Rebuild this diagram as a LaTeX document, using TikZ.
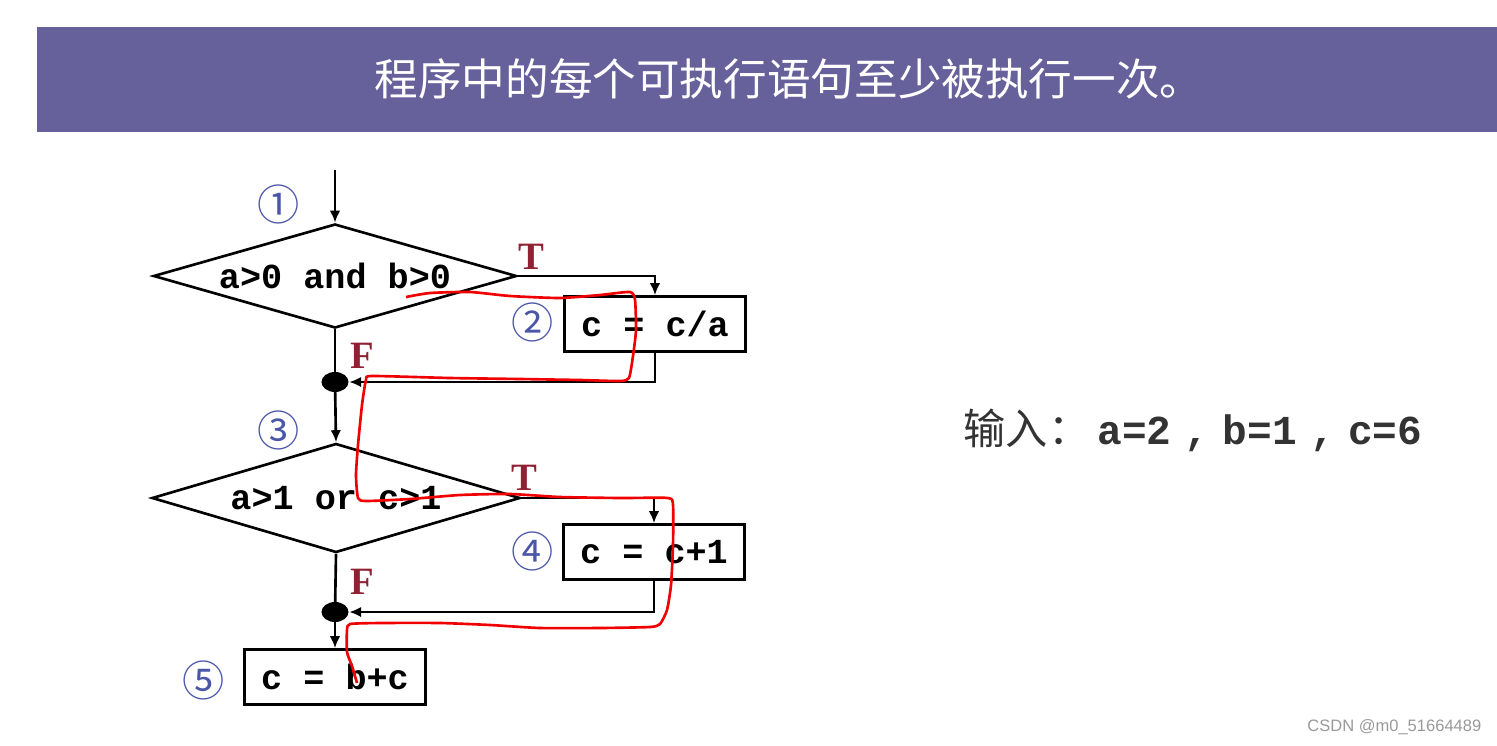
\documentclass[tikz,border=0pt]{standalone}
\usepackage{fontspec}
\setmainfont{Liberation Sans}
\setmonofont{Liberation Mono}
\newfontfamily\cjk{Noto Sans CJK SC}
\newfontfamily\tfserif{Liberation Serif}
\usetikzlibrary{shapes.geometric,arrows.meta}

\definecolor{headbg}{HTML}{66619A}
\definecolor{numblue}{HTML}{4A56A8}
\definecolor{tfred}{HTML}{8E2233}
\definecolor{pentrace}{HTML}{F00000}

\tikzset{
  line/.style={line width=0.75pt},
  arr/.style={line/.try, -{Latex[length=3.4pt,width=3pt]}},
  decision/.style={draw, line width=0.75pt, diamond, aspect=3.45, inner sep=0pt,
    font=\ttfamily\bfseries\fontsize{10}{12}\selectfont},
  block/.style={draw, line width=0.75pt, rectangle, inner sep=0pt,
    minimum width=1.81cm, minimum height=0.55cm,
    font=\ttfamily\bfseries\fontsize{10}{12}\selectfont},
  joint/.style={ellipse, fill=black, inner sep=0pt,
    minimum width=0.27cm, minimum height=0.2cm},
  num/.style={text=numblue, font=\cjk\fontsize{12}{12}\selectfont, inner sep=0pt},
  tf/.style={text=tfred, font=\tfserif\bfseries\fontsize{11}{12}\selectfont, inner sep=0pt}
}

\begin{document}
\begin{tikzpicture}[x=0.01cm,y=-0.01cm]
\useasboundingbox (0,0) rectangle (1497,745);

% title bar
\fill[headbg] (37,27) rectangle (1497,132);
\node[text=white, font=\cjk\fontsize{12.4}{16}\selectfont] (title) at (789,79)
  {程序中的每个可执行语句至少被执行一次。};

% flow chart
\coordinate (start) at (335,170);
\node[decision, minimum width=3.63cm, minimum height=1.04cm] (d1) at (335,276) {a>0 and b>0};
\node[block] (b2) at (655,324) {c = c/a};
\node[joint] (j1) at (335,382) {};
\node[decision, minimum width=3.68cm, minimum height=1.09cm] (d2) at (336,498) {a>1 or c>1};
\node[block] (b4) at (654,552) {c = c+1};
\node[joint] (j2) at (335,612) {};
\node[block] (b5) at (335,677) {c = b+c};

\node[num] (n1) at (279,204) {①};
\node[num] (n2) at (533,322) {②};
\node[num] (n3) at (279,430) {③};
\node[num] (n4) at (533,551) {④};
\node[num] (n5) at (204,680) {⑤};

\node[tf] (t1) at (531,257) {T};
\node[tf] (f1) at (362,356) {F};
\node[tf] (t2) at (524,478) {T};
\node[tf] (f2) at (362,582) {F};

\draw[arr] (start) -- (d1.north);
\draw[arr] (d1.east) -| (b2.north);
\draw[line] (d1.south) -- (j1.center);
\draw[arr] (b2.south) |- (j1.east);
\draw[arr] (j1.center) -- (d2.north);
\draw[arr] (d2.east) -| (b4.north);
\draw[line] (d2.south) -- (j2.center);
\draw[arr] (b4.south) |- (j2.east);
\draw[arr] (j2.center) -- (b5.north);

% pen trace
\draw[pentrace, line width=0.75pt, line join=round] plot[smooth, tension=0.35] coordinates {
  (406,297) (430,293) (470,292) (510,296) (560,298) (600,295) (630,292)
  (635,300) (636,330) (633,356) (629,378) (620,381)
  (580,380) (520,379) (450,378) (372,376) (366,380)
  (362,405) (358,445) (356,475) (358,498) (366,501)
  (410,499) (460,495) (510,494) (560,497) (620,498) (668,498) (673,505)
  (673,545) (671,585) (667,610) (660,624) (650,627)
  (600,628) (540,628) (490,625) (440,623) (380,623) (350,624) (347,630)
  (347,652) (352,666) (357,683)};

% input values
\node[anchor=west, text=black!80, inner sep=0pt] (input) at (963,430)
  {{\cjk\fontsize{12}{14}\selectfont 输入：}\hspace{2pt}{\ttfamily\bfseries\fontsize{11.7}{14}\selectfont
   a=2\hspace{3.8pt},\hspace{3.8pt}b=1\hspace{3.8pt},\hspace{3.8pt}c=6}};

\node[anchor=east, text=black!40, inner sep=0pt, font=\fontsize{4.7}{6}\selectfont] (mark) at (1482,727)
  {CSDN @m0\_51664489};
\end{tikzpicture}
\end{document}
